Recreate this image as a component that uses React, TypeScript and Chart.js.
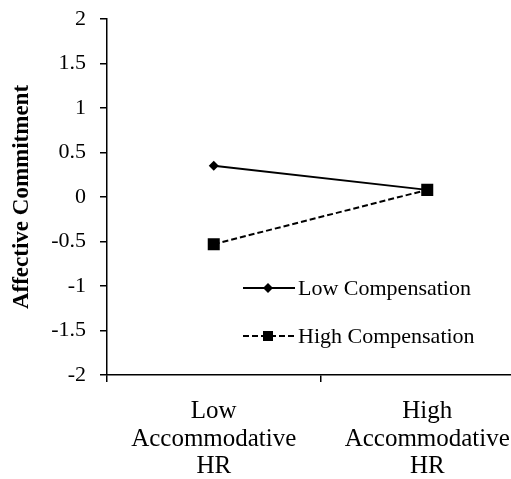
import React, { useEffect, useRef } from "react";
import { Chart, registerables } from "chart.js";

Chart.register(...registerables);

const categories: string[][] = [
  ["Low", "Accommodative", "HR"],
  ["High", "Accommodative", "HR"],
];
const seriesNames = ["Low Compensation", "High Compensation"];
const lowCompensation = [0.35, 0.08];
const highCompensation = [-0.53, 0.08];
const yTitle = "Affective Commitment";
const yMin = -2;
const yMax = 2;
const yStep = 0.5;

const FONT = "'Liberation Serif', 'Times New Roman', serif";

const legendPlugin = {
  id: "insideLegend",
  afterDraw(chart: any) {
    const ctx = chart.ctx;
    const ds = chart.data.datasets;
    const x0 = 243;
    const x1 = 295;
    const rows = [288, 336];
    ctx.save();
    ds.forEach((d: any, i: number) => {
      const y = rows[i];
      ctx.strokeStyle = "#000";
      ctx.lineWidth = d.borderWidth;
      ctx.setLineDash(d.borderDash || []);
      ctx.beginPath();
      ctx.moveTo(x0, y);
      ctx.lineTo(x1, y);
      ctx.stroke();
      ctx.setLineDash([]);
      ctx.fillStyle = "#000";
      const cx = (x0 + x1) / 2 - 1;
      ctx.beginPath();
      if (d.pointStyle === "rectRot") {
        const r = 5;
        ctx.moveTo(cx, y - r);
        ctx.lineTo(cx + r, y);
        ctx.lineTo(cx, y + r);
        ctx.lineTo(cx - r, y);
        ctx.closePath();
      } else {
        ctx.rect(cx - 5, y - 5, 10, 10);
      }
      ctx.fill();
      ctx.font = `22px ${FONT}`;
      ctx.textBaseline = "middle";
      ctx.textAlign = "left";
      ctx.fillText(d.label, x1 + 3, y + 1);
    });
    ctx.restore();
  },
};

export default function App() {
  const ref = useRef<HTMLCanvasElement>(null);
  useEffect(() => {
    if (!ref.current) return;
    const chart = new Chart(ref.current, {
      type: "line",
      data: {
        labels: categories,
        datasets: [
          {
            label: seriesNames[0],
            data: lowCompensation,
            borderColor: "#000",
            backgroundColor: "#000",
            borderWidth: 2,
            pointStyle: "rectRot",
            pointRadius: 5,
            pointBorderWidth: 0,
            tension: 0,
          },
          {
            label: seriesNames[1],
            data: highCompensation,
            borderColor: "#000",
            backgroundColor: "#000",
            borderWidth: 2,
            borderDash: [6, 3],
            pointStyle: "rect",
            pointRadius: 8.5,
            pointBorderWidth: 0,
            tension: 0,
          },
        ],
      },
      options: {
        animation: false,
        responsive: false,
        maintainAspectRatio: false,
        layout: { padding: { top: 19, right: 26, left: 0, bottom: 0 } },
        plugins: { legend: { display: false }, tooltip: { enabled: false } },
        scales: {
          x: {
            type: "category",
            offset: true,
            grid: {
              offset: true,
              drawOnChartArea: false,
              drawTicks: true,
              tickLength: 7,
              color: "#000",
              lineWidth: 1.5,
            },
            border: { display: true, color: "#000", width: 1.5 },
            ticks: {
              color: "#000",
              font: { family: FONT, size: 25, lineHeight: 1.1 },
              padding: 16,
              maxRotation: 0,
              autoSkip: false,
            },
            afterFit: (s: any) => {
              s.height = 104;
              s.paddingLeft = 0;
              s.paddingRight = 0;
            },
          },
          y: {
            min: yMin,
            max: yMax,
            grid: {
              drawOnChartArea: false,
              drawTicks: true,
              tickLength: 7,
              color: "#000",
              lineWidth: 1.5,
            },
            border: { display: true, color: "#000", width: 1.5 },
            ticks: {
              stepSize: yStep,
              color: "#000",
              font: { family: FONT, size: 22 },
              padding: 14,
              callback: (v: any) => String(Number(v)),
            },
            title: {
              display: true,
              text: yTitle,
              color: "#000",
              font: { family: FONT, size: 23, weight: "bold", lineHeight: 1.2 },
              padding: { top: 8, bottom: 0 },
            },
            afterFit: (s: any) => {
              s.width = 107;
              s.paddingTop = 0;
              s.paddingBottom = 0;
            },
          },
        },
      },
      plugins: [legendPlugin],
    });
    return () => chart.destroy();
  }, []);
  return (
    <div
      style={{
        position: "absolute",
        left: 0,
        top: 0,
        width: 511,
        height: 479,
        overflow: "hidden",
        background: "#fff",
      }}
    >
      <canvas ref={ref} width={560} height={479} style={{ display: "block" }} />
    </div>
  );
}
